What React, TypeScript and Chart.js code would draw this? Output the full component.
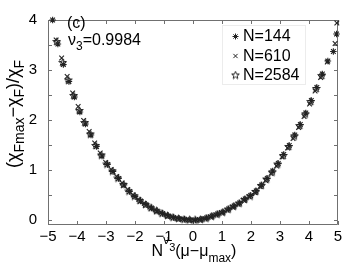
import React, { useEffect, useRef } from 'react';
import { Chart, registerables } from 'chart.js';
Chart.register(...registerables);

const X_TICKS = [-5, -4, -3, -2, -1, 0, 1, 2, 3, 4, 5];
const Y_TICKS = [0, 0.5, 1, 1.5, 2, 2.5, 3, 3.5, 4];
const Y_LABELED = [0, 1, 2, 3, 4];
const SERIES_LABELS = ['N=144', 'N=610', 'N=2584'];

const X_N144 = [-4.84, -4.66, -4.47, -4.28, -4.09, -3.90, -3.71, -3.52, -3.33, -3.14, -2.95, -2.76, -2.57, -2.38, -2.19, -2.00, -1.81, -1.62, -1.43, -1.24, -1.05, -0.86, -0.67, -0.48, -0.29, -0.10, 0.09, 0.28, 0.47, 0.66, 0.85, 1.04, 1.23, 1.42, 1.61, 1.80, 1.99, 2.18, 2.37, 2.56, 2.75, 2.94, 3.13, 3.32, 3.51, 3.70, 3.89, 4.08, 4.27, 4.46, 4.65, 4.84, 4.95];
const Y_N144 = [4.00, 3.52, 3.11, 2.77, 2.46, 2.16, 1.92, 1.70, 1.47, 1.28, 1.11, 0.97, 0.83, 0.70, 0.57, 0.47, 0.38, 0.31, 0.24, 0.18, 0.13, 0.085, 0.05, 0.03, 0.015, 0.005, 0.003, 0.015, 0.04, 0.08, 0.12, 0.16, 0.22, 0.28, 0.34, 0.42, 0.49, 0.58, 0.70, 0.83, 0.98, 1.13, 1.31, 1.49, 1.70, 1.91, 2.14, 2.39, 2.65, 2.92, 3.18, 3.37, 3.72];

const X_N610 = [-4.72, -4.53, -4.34, -4.15, -3.96, -3.77, -3.58, -3.39, -3.20, -3.01, -2.82, -2.63, -2.44, -2.25, -2.06, -1.87, -1.68, -1.49, -1.30, -1.11, -0.92, -0.73, -0.54, -0.35, -0.16, 0.03, 0.22, 0.41, 0.60, 0.79, 0.98, 1.17, 1.36, 1.55, 1.74, 1.93, 2.12, 2.31, 2.50, 2.69, 2.88, 3.07, 3.26, 3.45, 3.64, 3.83, 4.02, 4.21, 4.40, 4.63, 4.90, 4.96];
const Y_N610 = [3.60, 3.24, 2.87, 2.54, 2.27, 1.99, 1.77, 1.54, 1.34, 1.15, 1.01, 0.87, 0.74, 0.61, 0.50, 0.41, 0.33, 0.26, 0.20, 0.145, 0.10, 0.06, 0.035, 0.02, 0.008, 0.0, 0.01, 0.03, 0.065, 0.105, 0.15, 0.20, 0.26, 0.32, 0.40, 0.47, 0.55, 0.67, 0.79, 0.93, 1.08, 1.26, 1.44, 1.63, 1.85, 2.07, 2.32, 2.58, 2.85, 3.16, 3.53, 3.94];

const X_N2584 = [-4.70, -4.49, -4.30, -4.11, -3.92, -3.73, -3.54, -3.35, -3.16, -2.97, -2.78, -2.59, -2.40, -2.21, -2.02, -1.83, -1.64, -1.45, -1.26, -1.07, -0.88, -0.69, -0.50, -0.31, -0.12, 0.07, 0.26, 0.45, 0.64, 0.83, 1.02, 1.21, 1.40, 1.59, 1.78, 1.97, 2.16, 2.35, 2.54, 2.73, 2.92, 3.11, 3.30, 3.49, 3.68, 3.87, 4.06, 4.25, 4.44];
const Y_N2584 = [3.57, 3.15, 2.80, 2.49, 2.19, 1.95, 1.72, 1.49, 1.30, 1.12, 0.98, 0.84, 0.71, 0.58, 0.48, 0.39, 0.31, 0.245, 0.185, 0.135, 0.09, 0.055, 0.032, 0.016, 0.006, 0.002, 0.013, 0.037, 0.075, 0.115, 0.155, 0.215, 0.275, 0.335, 0.41, 0.48, 0.57, 0.69, 0.82, 0.96, 1.12, 1.29, 1.47, 1.68, 1.89, 2.12, 2.37, 2.63, 2.89];

const FONT = '"Liberation Sans", Arial, Helvetica, sans-serif';
const MARK = '#222222';
const AXIS = '#707070';

type Seg = { t: string; size: number; dy: number };

function drawSegs(ctx: CanvasRenderingContext2D, segs: Seg[], x: number, y: number, center = false) {
  let total = 0;
  for (const s of segs) {
    ctx.font = `${s.size}px ${FONT}`;
    total += ctx.measureText(s.t).width;
  }
  let cx = center ? x - total / 2 : x;
  ctx.textAlign = 'left';
  ctx.textBaseline = 'alphabetic';
  for (const s of segs) {
    ctx.font = `${s.size}px ${FONT}`;
    ctx.fillText(s.t, cx, y + s.dy);
    cx += ctx.measureText(s.t).width;
  }
}

function makeStar(): HTMLCanvasElement {
  const c = document.createElement('canvas');
  c.width = 9;
  c.height = 9;
  const g = c.getContext('2d')!;
  g.strokeStyle = MARK;
  g.lineWidth = 1;
  g.beginPath();
  for (let i = 0; i < 10; i++) {
    const r = i % 2 === 0 ? 4 : 1.7;
    const a = -Math.PI / 2 + (i * Math.PI) / 5;
    const px = 4.5 + r * Math.cos(a);
    const py = 4.8 + r * Math.sin(a);
    if (i === 0) g.moveTo(px, py);
    else g.lineTo(px, py);
  }
  g.closePath();
  g.stroke();
  return c;
}

function drawMarker(ctx: CanvasRenderingContext2D, kind: number, x: number, y: number, star: HTMLCanvasElement) {
  const r = 3;
  ctx.save();
  ctx.strokeStyle = MARK;
  ctx.lineWidth = 1;
  if (kind === 2) {
    ctx.drawImage(star, x - 4.5, y - 4.5);
  } else {
    ctx.beginPath();
    const d = r * Math.SQRT1_2;
    ctx.moveTo(x - d, y - d); ctx.lineTo(x + d, y + d);
    ctx.moveTo(x - d, y + d); ctx.lineTo(x + d, y - d);
    if (kind === 0) {
      ctx.moveTo(x - r, y); ctx.lineTo(x + r, y);
      ctx.moveTo(x, y - r); ctx.lineTo(x, y + r);
    }
    ctx.stroke();
  }
  ctx.restore();
}

const fmt = (v: number) => (v < 0 ? '\u2212' + Math.abs(v) : String(v));

export default function App() {
  const ref = useRef<HTMLCanvasElement>(null);
  useEffect(() => {
    document.body.style.margin = '0';
    const star = makeStar();
    const toPts = (xs: number[], ys: number[]) => xs.map((x, i) => ({ x, y: ys[i] }));

    const framePlugin = {
      id: 'frame',
      beforeDatasetsDraw(chart: any) {
        const { ctx, chartArea } = chart;
        const { left, right, top, bottom } = chartArea;
        const sx = chart.scales.x;
        const sy = chart.scales.y;
        ctx.save();
        ctx.strokeStyle = AXIS;
        ctx.lineWidth = 1;
        ctx.beginPath();
        ctx.rect(Math.round(left) + 0.5, Math.round(top) + 0.5, Math.round(right - left) - 1, Math.round(bottom - top) - 1);
        for (const v of X_TICKS) {
          const px = Math.round(sx.getPixelForValue(v)) + 0.5;
          ctx.moveTo(px, bottom); ctx.lineTo(px, bottom - 4);
          ctx.moveTo(px, top); ctx.lineTo(px, top + 4);
        }
        for (const v of Y_TICKS) {
          const py = Math.round(sy.getPixelForValue(v)) + 0.5;
          ctx.moveTo(left, py); ctx.lineTo(left + 4, py);
          ctx.moveTo(right, py); ctx.lineTo(right - 4, py);
        }
        ctx.stroke();
        ctx.restore();
      },
      afterDatasetsDraw(chart: any) {
        const { ctx } = chart;
        ctx.save();
        // legend box
        ctx.strokeStyle = '#ececec';
        ctx.lineWidth = 1;
        ctx.fillStyle = 'rgba(255,255,255,0.9)';
        ctx.fillRect(222.5, 25.5, 83, 59);
        ctx.strokeRect(222.5, 25.5, 83, 59);
        const rows = [36.5, 56, 75];
        ctx.fillStyle = '#000';
        chart.data.datasets.forEach((ds: any, i: number) => {
          drawMarker(ctx, i, 235.5, rows[i], star);
          ctx.font = `16px ${FONT}`;
          ctx.textAlign = 'left';
          ctx.textBaseline = 'middle';
          ctx.fillText(ds.label, 243, rows[i] + 0.5);
        });
        // annotations
        ctx.fillStyle = '#000';
        drawSegs(ctx, [{ t: '(c)', size: 16, dy: 0 }], 67, 28);
        drawSegs(ctx, [
          { t: '\u03bd', size: 16, dy: 0 },
          { t: '3', size: 12, dy: 5 },
          { t: '=0.9984', size: 16, dy: 0 },
        ], 68, 45);
        // x title
        drawSegs(ctx, [
          { t: 'N', size: 16, dy: 0 },
          { t: '\u03bd', size: 12, dy: -12 },
          { t: '3', size: 11, dy: -5 },
          { t: '(\u03bc\u2212\u03bc', size: 16, dy: 0 },
          { t: 'max', size: 12, dy: 6 },
          { t: ')', size: 16, dy: 0 },
        ], 194, 256, true);
        // y title
        ctx.translate(19, 114);
        ctx.rotate(-Math.PI / 2);
        drawSegs(ctx, [
          { t: '(\u03c7', size: 18, dy: 0 },
          { t: 'Fmax', size: 14, dy: 5 },
          { t: '\u2212\u03c7', size: 18, dy: 0 },
          { t: 'F', size: 14, dy: 5 },
          { t: ')/\u03c7', size: 18, dy: 0 },
          { t: 'F', size: 14, dy: 5 },
        ], 0, 0, true);
        ctx.restore();
      },
    };

    const common = {
      showLine: false,
      pointRadius: 3.3,
      pointHoverRadius: 3.3,
      pointBorderWidth: 1.1,
      borderColor: MARK,
      backgroundColor: 'transparent',
      pointBorderColor: MARK,
      pointBackgroundColor: 'transparent',
      clip: false as any,
    };

    const chart = new Chart(ref.current!, {
      type: 'scatter',
      data: {
        datasets: [
          { ...common, label: SERIES_LABELS[0], data: toPts(X_N144, Y_N144), pointStyle: 'star' },
          { ...common, label: SERIES_LABELS[1], data: toPts(X_N610, Y_N610), pointStyle: 'crossRot' },
          { ...common, label: SERIES_LABELS[2], data: toPts(X_N2584, Y_N2584), pointStyle: star as any },
        ],
      },
      options: {
        responsive: false,
        animation: false,
        events: [],
        layout: { padding: { left: 0, top: 12, right: 8, bottom: 0 } },
        plugins: { legend: { display: false }, tooltip: { enabled: false } },
        scales: {
          x: {
            type: 'linear',
            min: -5,
            max: 5,
            afterBuildTicks: (s: any) => { s.ticks = X_TICKS.map((v) => ({ value: v })); },
            afterFit: (s: any) => { s.height = 47; },
            grid: { display: false, drawTicks: false },
            border: { display: false },
            ticks: {
              autoSkip: false,
              maxRotation: 0,
              padding: 3,
              color: '#000',
              font: { family: FONT, size: 15 },
              callback: (v: any) => fmt(Number(v)),
            },
          },
          y: {
            type: 'linear',
            min: -0.1,
            max: 4,
            afterBuildTicks: (s: any) => { s.ticks = Y_TICKS.map((v) => ({ value: v })); },
            afterFit: (s: any) => { s.width = 48; },
            grid: { display: false, drawTicks: false },
            border: { display: false },
            ticks: {
              autoSkip: false,
              padding: 11,
              color: '#000',
              font: { family: FONT, size: 15 },
              callback: (v: any) => (Y_LABELED.includes(Number(v)) ? String(v) : ''),
            },
          },
        },
      },
      plugins: [framePlugin],
    });
    return () => chart.destroy();
  }, []);

  return (
    <div style={{ position: 'absolute', left: 0, top: 0, width: 346, height: 272, background: '#fff' }}>
      <canvas ref={ref} width={346} height={272} style={{ width: 346, height: 272, display: 'block' }} />
    </div>
  );
}
